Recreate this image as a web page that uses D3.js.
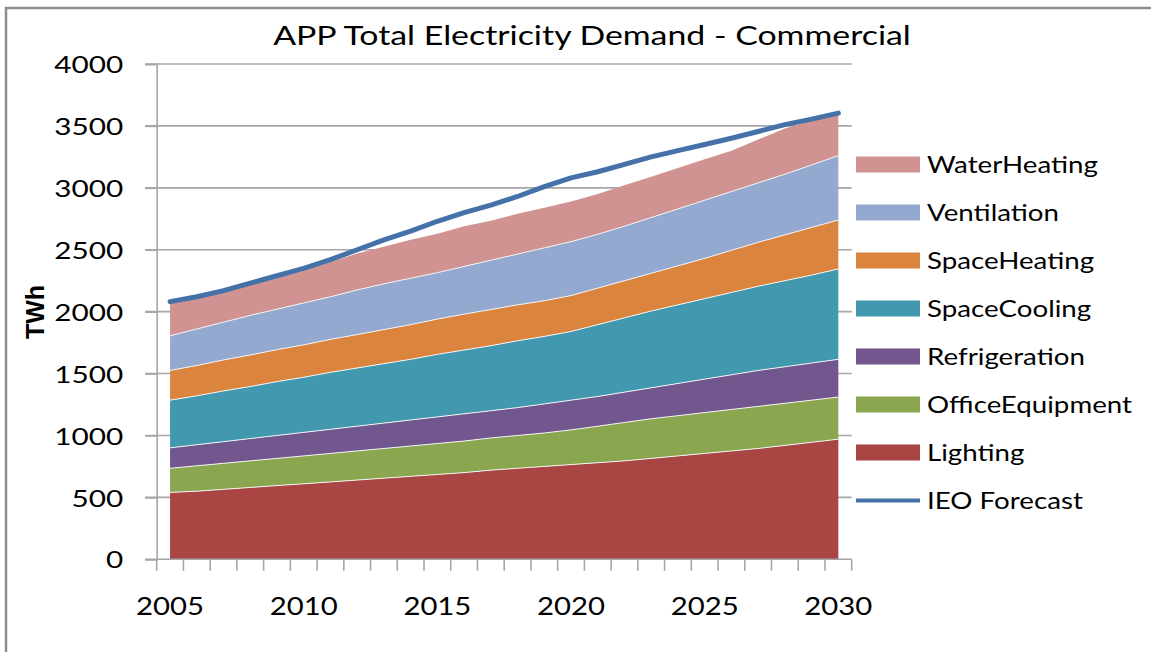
<!DOCTYPE html>
<html>
<head>
<meta charset="utf-8">
<script src="https://cdn.jsdelivr.net/npm/d3@7"></script>
<style>
  body { margin: 0; background: #fff; }
  svg { display: block; }
</style>
</head>
<body>
<div id="chart"></div>
<script>
// chart data (TWh)
const years = ['2005','2006','2007','2008','2009','2010','2011','2012','2013','2014','2015','2016','2017',
               '2018','2019','2020','2021','2022','2023','2024','2025','2026','2027','2028','2029','2030'];
const lighting        = [540,550,565,580,595,610,625,640,655,670,685,700,720,735,750,765,780,795,815,835,855,875,895,920,945,970];
const officeEquipment = [195,205,210,215,220,225,230,235,240,245,250,255,260,265,270,280,295,310,320,325,330,335,340,340,340,340];
const refrigeration   = [165,170,175,180,185,190,195,200,205,210,215,220,220,225,235,240,240,245,250,260,270,280,290,295,300,305];
const spaceCooling    = [385,395,410,420,435,445,460,470,480,490,505,515,525,540,545,555,580,600,620,635,650,665,680,695,710,730];
const spaceHeating    = [240,245,250,255,258,262,266,270,275,280,285,290,292,290,288,290,295,300,305,315,325,340,355,370,385,395];
const ventilation     = [280,295,305,320,327,338,344,360,370,375,375,385,398,410,427,435,435,440,450,460,470,475,480,490,505,520];
const waterHeating    = [260,250,245,245,250,260,280,295,300,310,315,325,320,325,325,325,325,330,330,330,330,330,350,370,360,340];
const ieoForecast     = [2081,2120,2170,2230,2290,2350,2420,2500,2580,2650,2730,2800,2860,2930,3010,3080,3130,3190,3250,3300,3350,3400,3455,3510,3555,3603];

const seriesNames = ['Lighting','OfficeEquipment','Refrigeration','SpaceCooling','SpaceHeating','Ventilation','WaterHeating'];
const seriesValues = [lighting, officeEquipment, refrigeration, spaceCooling, spaceHeating, ventilation, waterHeating];
const yTicks = [0, 500, 1000, 1500, 2000, 2500, 3000, 3500, 4000];
const xLabelYears = ['2005','2010','2015','2020','2025','2030'];

const colors = {
    Lighting: '#A94543',
    OfficeEquipment: '#8AA64E',
    Refrigeration: '#71578E',
    SpaceCooling: '#4198AF',
    SpaceHeating: '#DA843D',
    Ventilation: '#94A9CF',
    WaterHeating: '#D19392'
};
const lineColor = '#4472A8';
const gridColor = '#A6A6A6';
const FONT = 'Lato, "Open Sans", sans-serif';

const W = 1151, H = 652;
const plot = { left: 156.7, right: 851.7, top: 64, bottom: 559.3 };

const rows = years.map((yr, i) => {
    const r = { year: yr };
    seriesNames.forEach((k, j) => { r[k] = seriesValues[j][i]; });
    return r;
});

const x = d3.scaleBand().domain(years).range([plot.left, plot.right]).padding(0);
const cx = d => x(d) + x.bandwidth() / 2;
const y = d3.scaleLinear().domain([0, 4000]).range([plot.bottom, plot.top]);

const svg = d3.select('#chart').append('svg')
    .attr('width', W)
    .attr('height', H)
    .style('font-family', FONT);

// outer chart frame (runs off the right and bottom of the picture)
svg.append('rect')
    .attr('x', 6).attr('y', 8)
    .attr('width', W + 20).attr('height', H + 20)
    .attr('fill', '#fff')
    .attr('stroke', '#8c8c8c')
    .attr('stroke-width', 2.5);

// stretch a text horizontally so it reaches a target width
function fitWidth(sel, target) {
    sel.each(function() {
        const t = d3.select(this);
        const x0 = +t.attr('x') || 0, y0 = +t.attr('y') || 0;
        const natural = this.getComputedTextLength();
        const sx = target / natural;
        t.attr('x', 0).attr('y', 0)
            .attr('transform', `translate(${x0},${y0}) scale(${sx},1)`);
    });
}
function stretchText(sel, sx) {
    sel.each(function() {
        const t = d3.select(this);
        const x0 = +t.attr('x') || 0, y0 = +t.attr('y') || 0;
        t.attr('x', 0).attr('y', 0)
            .attr('transform', `translate(${x0},${y0}) scale(${sx},1)`);
    });
}

// gridlines
svg.append('g').attr('class', 'grid')
    .selectAll('line')
    .data(yTicks.filter(v => v > 0))
    .join('line')
    .attr('x1', plot.left - 11.5).attr('x2', plot.right)
    .attr('y1', d => y(d)).attr('y2', d => y(d))
    .attr('stroke', gridColor)
    .attr('stroke-width', 1.6);

// stacked areas
const stack = d3.stack().keys(seriesNames);
const layers = stack(rows);

const area = d3.area()
    .x(d => cx(d.data.year))
    .y0(d => y(d[0]))
    .y1(d => y(d[1]));

const topLine = d3.line()
    .x(d => cx(d.data.year))
    .y(d => y(d[1]));

const areaG = svg.append('g').attr('class', 'areas');
areaG.selectAll('path.layer')
    .data(layers)
    .join('path')
    .attr('class', 'layer')
    .attr('fill', d => colors[d.key])
    .attr('d', area);

areaG.selectAll('path.edge')
    .data(layers.slice(0, -1))
    .join('path')
    .attr('class', 'edge')
    .attr('fill', 'none')
    .attr('stroke', '#f4f4f4')
    .attr('stroke-width', 1)
    .attr('d', topLine);

// IEO forecast line
const line = d3.line()
    .x((d, i) => cx(years[i]))
    .y(d => y(d));

svg.append('path')
    .datum(ieoForecast)
    .attr('fill', 'none')
    .attr('stroke', lineColor)
    .attr('stroke-width', 5)
    .attr('stroke-linejoin', 'round')
    .attr('stroke-linecap', 'round')
    .attr('d', line);

// y axis
const yAxis = svg.append('g')
    .attr('transform', `translate(${plot.left},0)`)
    .call(d3.axisLeft(y).tickValues(yTicks).tickSize(11.5).tickPadding(22).tickFormat(d3.format('d')));
yAxis.select('.domain').attr('stroke', gridColor).attr('stroke-width', 1.6);
yAxis.selectAll('.tick line').attr('stroke', gridColor).attr('stroke-width', 1.6);
yAxis.selectAll('.tick text')
    .attr('fill', '#000')
    .style('font-size', '24px')
    .style('font-family', FONT)
    .attr('dy', '0.36em');

// x axis, tick marks on category boundaries
const xAxis = svg.append('g')
    .attr('transform', `translate(0,${plot.bottom})`);
xAxis.append('line')
    .attr('x1', plot.left - 11.5).attr('x2', plot.right)
    .attr('stroke', gridColor).attr('stroke-width', 1.6);
xAxis.selectAll('line.tk')
    .data(years.concat(['end']))
    .join('line')
    .attr('class', 'tk')
    .attr('x1', d => d === 'end' ? plot.right : x(d))
    .attr('x2', d => d === 'end' ? plot.right : x(d))
    .attr('y1', 0).attr('y2', 11.5)
    .attr('stroke', gridColor).attr('stroke-width', 1.6);
const xLabels = xAxis.selectAll('text')
    .data(xLabelYears)
    .join('text')
    .attr('x', d => cx(d))
    .attr('y', 56)
    .attr('text-anchor', 'middle')
    .style('font-size', '25px')
    .text(d => d);

// stretch all tick labels so digits come out as wide as the reference
const probe = svg.append('text').style('font-size', '24px').text('4000');
const digitSx = 69 / probe.node().getComputedTextLength();
probe.remove();
stretchText(yAxis.selectAll('.tick text'), digitSx);
stretchText(xLabels, digitSx * 24 / 25 * (68 / 69));

// title
const title = svg.append('text')
    .attr('x', 592).attr('y', 45)
    .attr('text-anchor', 'middle')
    .style('font-size', '26px')
    .text('APP Total Electricity Demand - Commercial');
fitWidth(title, 638);

// y axis title
svg.append('text')
    .attr('transform', 'translate(44,312) rotate(-90)')
    .attr('text-anchor', 'middle')
    .style('font-family', '"Liberation Sans", Arial, sans-serif')
    .style('font-weight', 'bold')
    .style('font-size', '25px')
    .text('TWh');

// legend
const legendItems = seriesNames.slice().reverse().map(k => ({ name: k, type: 'area' }))
    .concat([{ name: 'IEO Forecast', type: 'line' }]);
const legend = svg.append('g').attr('class', 'legend');
const item = legend.selectAll('g')
    .data(legendItems)
    .join('g')
    .attr('transform', (d, i) => `translate(0,${164.5 + i * 48})`);

item.filter(d => d.type === 'area').append('rect')
    .attr('x', 856).attr('y', -8)
    .attr('width', 64).attr('height', 16)
    .attr('fill', d => colors[d.name]);
item.filter(d => d.type === 'line').append('line')
    .attr('x1', 856).attr('x2', 920)
    .attr('stroke', lineColor).attr('stroke-width', 4);

const legendText = item.append('text')
    .attr('x', 927).attr('y', 8.5)
    .style('font-size', '23px')
    .text(d => d.name);

const wProbe = legend.append('text').style('font-size', '23px').text('WaterHeating');
const legendSx = 171 / wProbe.node().getComputedTextLength();
wProbe.remove();
stretchText(legendText, legendSx);
</script>
</body>
</html>
